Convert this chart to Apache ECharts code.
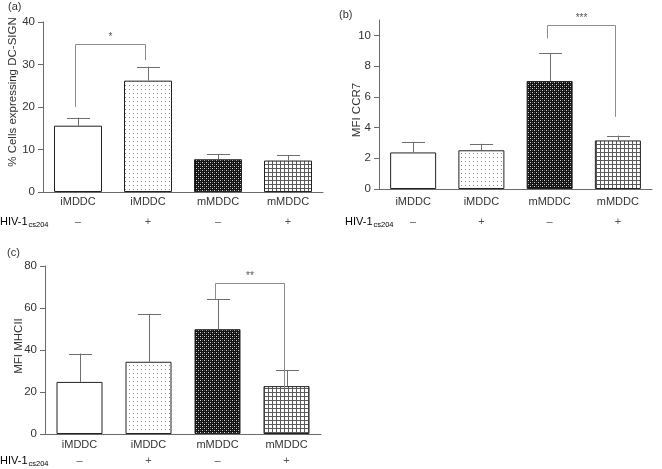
<!DOCTYPE html>
<html>
<head>
<meta charset="utf-8">
<script src="https://cdn.jsdelivr.net/npm/echarts@6/dist/echarts.min.js"></script>
<style>html,body{margin:0;padding:0;background:#fff}#c{width:662px;height:469px}</style>
</head>
<body>
<div id="c"></div>
<script>
// ---------- data ----------
const categories = ['iMDDC', 'iMDDC', 'mMDDC', 'mMDDC'];
const hivSigns = ['\u2013', '+', '\u2013', '+'];

const valuesA = [15.6, 26.2, 7.7, 7.4];
const errTopA = [17.5, 29.5, 8.9, 8.7];
const valuesB = [2.38, 2.52, 7.03, 3.16];
const errTopB = [3.03, 2.94, 8.85, 3.48];
const valuesC = [24.8, 34.4, 49.9, 22.8];
const errTopC = [38.3, 57.0, 64.1, 30.4];

const ticksA = [0, 10, 20, 30, 40];
const ticksB = [0, 2, 4, 6, 8, 10];
const ticksC = [0, 20, 40, 60, 80];

// brackets: [fromIndex, toIndex, topValue, leftLegBottom, rightLegBottom]
const bracketA = [0, 1, 34.8, 20, 31];
const bracketB = [2, 3, 10.7, 9.8, 4.7];
const bracketC = [2, 3, 72, 64, 22];
const starsA = '*';
const starsB = '***';
const starsC = '**';

// ---------- patterns ----------
function pat(kind) {
  const c = document.createElement('canvas');
  c.width = 4; c.height = 4;
  const g = c.getContext('2d');
  if (kind === 'dots') {
    g.fillStyle = '#fff'; g.fillRect(0, 0, 4, 4);
    g.fillStyle = '#8a8a8a'; g.fillRect(1, 1, 1, 1);
  } else if (kind === 'dark') {
    g.fillStyle = '#111'; g.fillRect(0, 0, 4, 4);
    g.fillStyle = '#d8d8d8'; g.fillRect(0, 0, 1, 1); g.fillRect(2, 2, 1, 1);
    g.fillStyle = '#555'; g.fillRect(2, 0, 1, 1); g.fillRect(0, 2, 1, 1);
  } else {
    g.fillStyle = '#fff'; g.fillRect(0, 0, 4, 4);
    g.fillStyle = '#5a5a5a'; g.fillRect(0, 0, 4, 1); g.fillRect(0, 0, 1, 4);
  }
  return { image: c, repeat: 'repeat' };
}
const fills = ['#ffffff', pat('dots'), pat('dark'), pat('grid')];

const FONT = '"Liberation Sans", Arial, sans-serif';
const TXT = '#333';
const AX = '#6a6a6a';

function barSeries(idx, vals, bw) {
  return {
    type: 'bar', xAxisIndex: idx, yAxisIndex: idx, barWidth: bw, z: 2,
    data: vals.map((v, i) => ({ value: v, itemStyle: { color: fills[i], borderColor: '#222', borderWidth: 1 } })),
    silent: true
  };
}
function errSeries(idx, vals, tops) {
  return {
    type: 'custom', xAxisIndex: idx, yAxisIndex: idx, z: 3, silent: true,
    data: vals.map((v, i) => [i, v, tops[i]]),
    renderItem: function (params, api) {
      const b = api.coord([api.value(0), api.value(1)]);
      const t = api.coord([api.value(0), api.value(2)]);
      const x = Math.round(b[0]) + 0.5;
      const st = { stroke: '#6e6e6e', lineWidth: 1 };
      return { type: 'group', children: [
        { type: 'line', shape: { x1: x, y1: b[1], x2: x, y2: t[1] }, style: st },
        { type: 'line', shape: { x1: x - 11.5, y1: Math.round(t[1]) + 0.5, x2: x + 11.5, y2: Math.round(t[1]) + 0.5 }, style: st }
      ]};
    }
  };
}
function bracketSeries(idx, br, stars) {
  return {
    type: 'custom', xAxisIndex: idx, yAxisIndex: idx, z: 4, silent: true, clip: false,
    data: [br],
    renderItem: function (params, api) {
      const l = api.coord([api.value(0), api.value(3)]);
      const r = api.coord([api.value(1), api.value(4)]);
      const top = api.coord([api.value(0), api.value(2)])[1];
      const xl = Math.round(l[0]) - 2.5, xr = Math.round(r[0]) - 2.5, yt = Math.round(top) + 0.5;
      return { type: 'group', children: [
        { type: 'polyline', shape: { points: [[xl, l[1]], [xl, yt], [xr, yt], [xr, r[1]]] },
          style: { stroke: '#8c8c8c', lineWidth: 1, fill: null } },
        { type: 'text', x: (xl + xr) / 2, y: yt - 7,
          style: { text: stars, fill: '#555', font: '10px ' + FONT, align: 'center', verticalAlign: 'middle' } }
      ]};
    }
  };
}
function xAxis(idx, margin, lh) {
  return {
    type: 'category', gridIndex: idx, data: categories,
    axisLine: { lineStyle: { color: AX, width: 1 } },
    axisTick: { show: false },
    axisLabel: {
      margin: margin, interval: 0,
      formatter: (v, i) => '{c|' + v + '}\n{s|' + hivSigns[i] + '}',
      rich: {
        c: { fontSize: 11, fontFamily: FONT, color: TXT, lineHeight: lh },
        s: { fontSize: 11, fontFamily: FONT, color: '#555', lineHeight: lh }
      }
    }
  };
}
function yAxis(idx, max, ticks) {
  return {
    type: 'value', gridIndex: idx, min: 0, max: max,
    splitLine: { show: false },
    axisLine: { show: true, lineStyle: { color: AX, width: 1 } },
    axisTick: { show: true, length: 5, lineStyle: { color: AX }, customValues: ticks },
    axisLabel: { margin: 8, fontSize: 11.5, fontFamily: FONT, color: TXT, customValues: ticks }
  };
}

const chart = echarts.init(document.getElementById('c'), null, { renderer: 'canvas' });
chart.setOption({
  animation: false,
  backgroundColor: '#fff',
  grid: [
    { left: 43, top: 22, width: 280, height: 170 },
    { left: 379, top: 20, width: 273, height: 169 },
    { left: 45, top: 266, width: 276, height: 168 }
  ],
  xAxis: [xAxis(0, 0, 20), xAxis(1, 3, 20), xAxis(2, 3, 16)],
  yAxis: [yAxis(0, 40, ticksA), yAxis(1, 11, ticksB), yAxis(2, 80, ticksC)],
  series: [
    barSeries(0, valuesA, 48), errSeries(0, valuesA, errTopA), bracketSeries(0, bracketA, starsA),
    barSeries(1, valuesB, 46), errSeries(1, valuesB, errTopB), bracketSeries(1, bracketB, starsB),
    barSeries(2, valuesC, 46), errSeries(2, valuesC, errTopC), bracketSeries(2, bracketC, starsC)
  ],
  graphic: [
    { type: 'text', x: 8, y: 7, style: { text: '(a)', font: '11px ' + FONT, fill: TXT, verticalAlign: 'middle' } },
    { type: 'text', x: 339, y: 15, style: { text: '(b)', font: '11px ' + FONT, fill: TXT, verticalAlign: 'middle' } },
    { type: 'text', x: 7, y: 253, style: { text: '(c)', font: '11px ' + FONT, fill: TXT, verticalAlign: 'middle' } },
    { type: 'text', x: 13, y: 92, rotation: Math.PI / 2,
      style: { text: '% Cells expressing DC-SIGN', font: '11.5px ' + FONT, fill: TXT, align: 'center', verticalAlign: 'middle' } },
    { type: 'text', x: 357, y: 110, rotation: Math.PI / 2,
      style: { text: 'MFI CCR7', font: '11.5px ' + FONT, fill: TXT, align: 'center', verticalAlign: 'middle' } },
    { type: 'text', x: 19, y: 346, rotation: Math.PI / 2,
      style: { text: 'MFI MHCII', font: '11.5px ' + FONT, fill: TXT, align: 'center', verticalAlign: 'middle' } },
    { type: 'text', x: 0, y: 222, style: { text: '{a|HIV-1}{b|cs204}', verticalAlign: 'middle',
      rich: { a: { fontSize: 11, fontFamily: FONT, color: TXT }, b: { fontSize: 7.5, fontFamily: FONT, color: TXT, padding: [5, 0, 0, 1] } } } },
    { type: 'text', x: 345, y: 222, style: { text: '{a|HIV-1}{b|cs204}', verticalAlign: 'middle',
      rich: { a: { fontSize: 11, fontFamily: FONT, color: TXT }, b: { fontSize: 7.5, fontFamily: FONT, color: TXT, padding: [5, 0, 0, 1] } } } },
    { type: 'text', x: 0, y: 461, style: { text: '{a|HIV-1}{b|cs204}', verticalAlign: 'middle',
      rich: { a: { fontSize: 11, fontFamily: FONT, color: TXT }, b: { fontSize: 7.5, fontFamily: FONT, color: TXT, padding: [5, 0, 0, 1] } } } }
  ]
});
</script>
</body>
</html>
